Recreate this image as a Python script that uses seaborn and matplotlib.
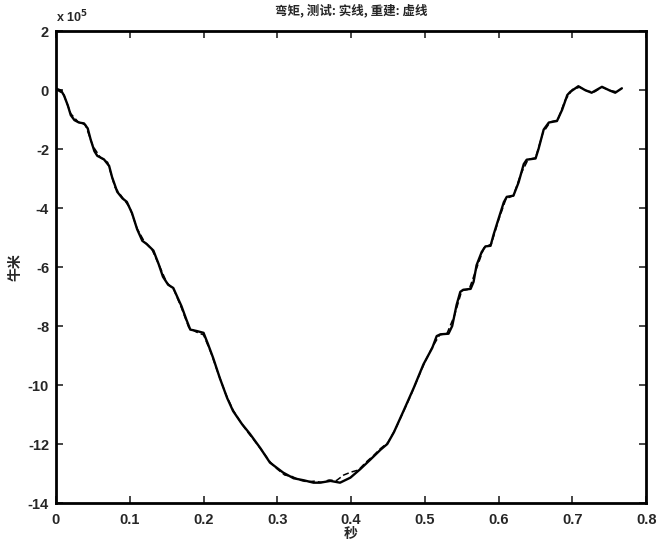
import numpy as np
import pandas as pd
import seaborn as sns
import matplotlib
matplotlib.use("Agg")
import matplotlib.pyplot as plt
from matplotlib.ticker import FuncFormatter

# measured bending moment (solid), seconds / 1e5 N*m
t_test = [0.000, 0.007, 0.011, 0.016, 0.020, 0.025, 0.031, 0.038, 0.043, 0.047,
          0.052, 0.056, 0.065, 0.072, 0.076, 0.083, 0.090, 0.096, 0.103, 0.110,
          0.117, 0.123, 0.132, 0.139, 0.145, 0.152, 0.159, 0.166, 0.170, 0.177,
          0.182, 0.191, 0.200, 0.206, 0.213, 0.222, 0.232, 0.240, 0.252, 0.263,
          0.277, 0.290, 0.308, 0.322, 0.336, 0.349, 0.358, 0.372, 0.385, 0.399,
          0.412, 0.426, 0.440, 0.449, 0.458, 0.471, 0.485, 0.498, 0.510, 0.516,
          0.521, 0.532, 0.537, 0.543, 0.548, 0.552, 0.562, 0.566, 0.570, 0.577,
          0.582, 0.589, 0.593, 0.600, 0.607, 0.611, 0.620, 0.627, 0.634, 0.638,
          0.650, 0.654, 0.661, 0.668, 0.679, 0.686, 0.693, 0.697, 0.708, 0.717,
          0.726, 0.740, 0.751, 0.758, 0.767]
m_test = [0.05, -0.02, -0.19, -0.52, -0.85, -1.02, -1.10, -1.13, -1.30, -1.68,
          -2.07, -2.23, -2.35, -2.57, -2.95, -3.45, -3.67, -3.79, -4.17, -4.72,
          -5.11, -5.22, -5.44, -5.89, -6.33, -6.60, -6.71, -7.10, -7.32, -7.80,
          -8.12, -8.17, -8.23, -8.61, -9.08, -9.76, -10.44, -10.88, -11.32, -11.66,
          -12.14, -12.63, -12.97, -13.16, -13.23, -13.31, -13.31, -13.25, -13.31, -13.14,
          -12.86, -12.53, -12.19, -12.00, -11.60, -10.88, -10.09, -9.30, -8.74, -8.34,
          -8.28, -8.26, -8.00, -7.28, -6.84, -6.77, -6.74, -6.50, -5.94, -5.49,
          -5.30, -5.28, -4.91, -4.35, -3.80, -3.62, -3.58, -3.13, -2.51, -2.36,
          -2.32, -2.00, -1.34, -1.10, -1.05, -0.67, -0.17, -0.06, 0.13, 0.00,
          -0.09, 0.11, -0.02, -0.09, 0.06]

# reconstructed bending moment (dashed)
t_rec = [0.00, 0.01, 0.02, 0.03, 0.04, 0.05, 0.06, 0.07, 0.08, 0.09,
         0.10, 0.11, 0.12, 0.13, 0.14, 0.15, 0.16, 0.17, 0.18, 0.19,
         0.20, 0.21, 0.22, 0.23, 0.24, 0.25, 0.26, 0.27, 0.28, 0.29,
         0.30, 0.31, 0.32, 0.33, 0.34, 0.35, 0.36, 0.37, 0.38, 0.39,
         0.40, 0.41, 0.42, 0.43, 0.44, 0.45, 0.46, 0.47, 0.48, 0.49,
         0.50, 0.51, 0.52, 0.53, 0.54, 0.55, 0.56, 0.57, 0.58, 0.59,
         0.60, 0.61, 0.62, 0.63, 0.64, 0.65, 0.66, 0.67, 0.68, 0.69,
         0.70, 0.71, 0.72, 0.73, 0.74, 0.75, 0.76]
m_rec = [0.02, -0.12, -0.80, -1.08, -1.18, -1.90, -2.28, -2.45, -3.30, -3.64,
         -3.98, -4.70, -5.15, -5.40, -5.95, -6.52, -6.78, -7.38, -8.05, -8.20,
         -8.30, -8.90, -9.62, -10.30, -10.85, -11.25, -11.60, -11.92, -12.25, -12.60,
         -12.85, -13.05, -13.10, -13.22, -13.28, -13.26, -13.30, -13.22, -13.24, -13.05,
         -12.95, -12.88, -12.62, -12.40, -12.15, -11.95, -11.50, -10.95, -10.40, -9.80,
         -9.22, -8.72, -8.30, -8.25, -7.65, -6.80, -6.75, -6.05, -5.35, -5.22,
         -4.40, -3.68, -3.58, -2.85, -2.35, -2.30, -1.45, -1.08, -1.02, -0.35,
         0.02, 0.10, -0.04, -0.06, 0.10, -0.01, -0.06]

x_ticks = [0, 0.1, 0.2, 0.3, 0.4, 0.5, 0.6, 0.7, 0.8]
y_ticks = [2, 0, -2, -4, -6, -8, -10, -12, -14]

test = pd.DataFrame({"t": t_test, "m": np.array(m_test) * 1e5})
rec = pd.DataFrame({"t": t_rec, "m": np.array(m_rec) * 1e5})

sns.set_style("ticks")
plt.rcParams['font.family'] = ['Liberation Sans', 'Noto Sans CJK SC', 'DejaVu Sans']
plt.rcParams['font.weight'] = 'bold'
plt.rcParams['xtick.direction'] = 'in'
plt.rcParams['ytick.direction'] = 'in'
plt.rcParams['lines.solid_joinstyle'] = 'round'
plt.rcParams['lines.dash_joinstyle'] = 'round'

fig = plt.figure(figsize=(6.58, 5.45), dpi=100)
ax = fig.add_axes([0.0851, 0.077, 0.897, 0.866])

sns.lineplot(data=rec, x="t", y="m", ax=ax, color="black", linewidth=1.1,
             linestyle=(0, (4, 2)), estimator=None, sort=False)
sns.lineplot(data=test, x="t", y="m", ax=ax, color="black", linewidth=1.7,
             estimator=None, sort=False)

ax.set_xlim(0, 0.8)
ax.set_ylim(-14e5, 2e5)
ax.set_xticks(x_ticks)
ax.set_yticks([v * 1e5 for v in y_ticks])
ax.xaxis.set_major_formatter(FuncFormatter(lambda v, p: "0" if v == 0 else f"{v:g}"))
ax.yaxis.set_major_formatter(FuncFormatter(lambda v, p: f"{v / 1e5:g}"))
ax.tick_params(axis="both", labelsize=10.5, length=5, width=1.2,
               top=True, right=True)
ax.tick_params(axis="x", pad=7)
ax.tick_params(axis="y", pad=5)
for lab in ax.get_xticklabels() + ax.get_yticklabels():
    lab.set_fontweight("bold")
for sp in ax.spines.values():
    sp.set_visible(True)
    sp.set_linewidth(2)
    sp.set_color("black")

cjk = ['Noto Sans CJK SC', 'DejaVu Sans']
ax.set_title("弯矩, 测试: 实线, 重建: 虚线", family=cjk, fontsize=9,
             fontweight="heavy", pad=12)
ax.set_xlabel("秒", family=cjk, fontsize=10, fontweight="heavy", labelpad=0)
ax.set_ylabel("牛米", family=cjk, fontsize=10, fontweight="heavy", labelpad=4)
ax.text(0.0, 1.012, r"x 10$^5$", transform=ax.transAxes, fontsize=9,
        fontweight="bold", ha="left", va="bottom")

fig.savefig("out.png", dpi=100)
